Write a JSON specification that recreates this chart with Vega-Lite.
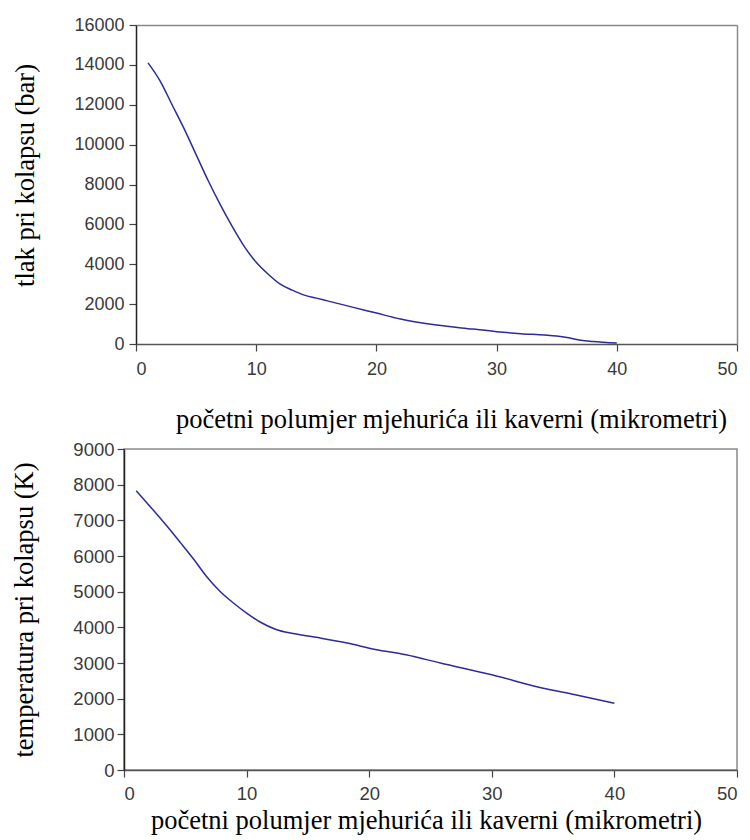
{
  "$schema": "https://vega.github.io/schema/vega-lite/v6.json",
  "padding": {"left": 11, "top": 16, "right": 2, "bottom": 0},
  "background": "white",
  "spacing": 6,
  "datasets": {
    "tlak": [
      {"r": 1, "v": 14100}, {"r": 2, "v": 13200}, {"r": 3, "v": 12000}, {"r": 4, "v": 10800},
      {"r": 5, "v": 9500}, {"r": 6, "v": 8200}, {"r": 7, "v": 7000}, {"r": 8, "v": 5900},
      {"r": 9, "v": 4900}, {"r": 10, "v": 4100}, {"r": 11, "v": 3500}, {"r": 12, "v": 3000},
      {"r": 13, "v": 2700}, {"r": 14, "v": 2450}, {"r": 15, "v": 2300}, {"r": 16, "v": 2150},
      {"r": 18, "v": 1850}, {"r": 20, "v": 1550}, {"r": 22, "v": 1250}, {"r": 25, "v": 950},
      {"r": 28, "v": 750}, {"r": 30, "v": 620}, {"r": 32, "v": 520}, {"r": 34, "v": 450},
      {"r": 35, "v": 400}, {"r": 36, "v": 310}, {"r": 37, "v": 190}, {"r": 38, "v": 130},
      {"r": 40, "v": 50}
    ],
    "temp": [
      {"r": 1, "v": 7830}, {"r": 2, "v": 7440}, {"r": 3.5, "v": 6840}, {"r": 4.6, "v": 6375},
      {"r": 5.7, "v": 5900}, {"r": 6.7, "v": 5440}, {"r": 7.8, "v": 5020}, {"r": 8.9, "v": 4690},
      {"r": 10, "v": 4400}, {"r": 11.1, "v": 4150}, {"r": 12.4, "v": 3940}, {"r": 13.8, "v": 3825},
      {"r": 16, "v": 3700}, {"r": 18.2, "v": 3560}, {"r": 20.5, "v": 3380}, {"r": 23, "v": 3230},
      {"r": 25.8, "v": 3000}, {"r": 30, "v": 2670}, {"r": 34.1, "v": 2300}, {"r": 36.8, "v": 2110},
      {"r": 40, "v": 1870}
    ]
  },
  "config": {
    "view": {"stroke": "#8a8a8a", "strokeWidth": 1.5},
    "axis": {
      "grid": false,
      "labelFont": "Liberation Sans",
      "labelFontSize": 18,
      "labelColor": "#3a3a3a",
      "titleFont": "Liberation Serif",
      "titleFontSize": 26.5,
      "titleFontWeight": "normal",
      "titleColor": "#000000",
      "domainColor": "#444444",
      "domainWidth": 1.5,
      "tickColor": "#444444",
      "tickSize": 7,
      "tickWidth": 1.2
    }
  },
  "vconcat": [
    {
      "width": 613,
      "height": 319,
      "view": {"stroke": null},
      "data": {"name": "tlak"},
      "layer": [
        {
          "mark": {"type": "line", "color": "#2b2b9e", "strokeWidth": 1.5, "interpolate": "monotone"},
          "encoding": {
            "x": {"field": "r", "type": "quantitative", "scale": {"domain": [0, 50], "nice": false, "range": [12, 613]},
              "axis": {"values": [0, 10, 20, 30, 40, 50], "labelPadding": 9, "domainColor": "#555555", "title": "početni polumjer mjehurića ili kaverni (mikrometri)", "titlePadding": 28, "titleX": 327, "titleAlign": "center"}},
            "y": {"field": "v", "type": "quantitative", "scale": {"domain": [0, 16000], "nice": false},
              "axis": {"values": [0, 2000, 4000, 6000, 8000, 10000, 12000, 14000, 16000], "format": "d", "offset": -12, "labelPadding": 5, "domainColor": "#222222", "title": "tlak pri kolapsu (bar)", "titlePadding": 34, "titleY": 150, "titleAlign": "center"}}
          }
        },
        {
          "mark": {"type": "line", "opacity": 0},
          "encoding": {
            "x": {"field": "r", "type": "quantitative",
              "axis": {"orient": "top", "labels": false, "ticks": false, "title": null, "domainColor": "#8a8a8a", "values": [0, 50]}},
            "y": {"field": "v", "type": "quantitative",
              "axis": {"orient": "right", "labels": false, "ticks": false, "title": null, "domainColor": "#8a8a8a", "values": [0, 16000]}}
          }
        }
      ],
      "resolve": {"axis": {"x": "independent", "y": "independent"}}
    },
    {
      "width": 613,
      "height": 321,
      "data": {"name": "temp"},
      "mark": {"type": "line", "color": "#2b2b9e", "strokeWidth": 1.5, "interpolate": "monotone"},
      "encoding": {
        "x": {"field": "r", "type": "quantitative", "scale": {"domain": [0, 50], "nice": false},
          "axis": {"values": [0, 10, 20, 30, 40, 50], "labelPadding": 7, "labelFontSize": 18.5, "domainColor": "#555555", "title": "početni polumjer mjehurića ili kaverni (mikrometri)", "titlePadding": 5, "titleX": 302, "titleAlign": "center"}},
        "y": {"field": "v", "type": "quantitative", "scale": {"domain": [0, 9000], "nice": false},
          "axis": {"values": [0, 1000, 2000, 3000, 4000, 5000, 6000, 7000, 8000, 9000], "format": "d", "labelPadding": 3, "labelFontSize": 18.5, "domainColor": "#222222", "title": "temperatura pri kolapsu  (K)", "titlePadding": 34}}
      }
    }
  ]
}
